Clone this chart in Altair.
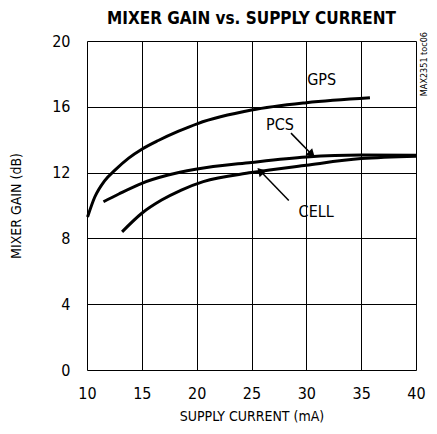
import altair as alt
import pandas as pd

# Curves
gps_x = [10.05, 10.7, 11.6, 12.55, 13.8, 15.0, 16.5, 18.3, 20.1, 25, 30, 35.8]
gps_y = [9.3, 10.5, 11.5, 12.15, 12.88, 13.42, 13.95, 14.5, 14.98, 15.8, 16.25, 16.55]
pcs_x = [11.5, 12.9, 15, 17.4, 19.9, 25, 30, 35, 40]
pcs_y = [10.23, 10.7, 11.35, 11.85, 12.2, 12.62, 12.95, 13.07, 13.05]
cell_x = [13.2, 15, 16.8, 18.6, 20.6, 25, 30, 35, 40]
cell_y = [8.4, 9.53, 10.33, 10.94, 11.45, 12.0, 12.45, 12.85, 13.0]

x_ticks = [10, 15, 20, 25, 30, 35, 40]
y_ticks = [0, 4, 8, 12, 16, 20]

label_text = ["GPS", "PCS", "CELL"]
label_x = [31.4, 27.6, 30.9]
label_y = [17.6, 14.9, 9.6]

arrow_x1 = [28.6, 28.4]
arrow_y1 = [14.4, 10.3]
arrow_x2 = [30.5, 25.8]
arrow_y2 = [13.1, 12.1]
arrow_angle = [134, 317]

rows = []
for name, xs, ys in [("GPS", gps_x, gps_y), ("PCS", pcs_x, pcs_y), ("CELL", cell_x, cell_y)]:
    for a, b in zip(xs, ys):
        rows.append({"series": name, "current": a, "gain": b})
df = pd.DataFrame(rows)

labels = pd.DataFrame({"t": label_text, "x": label_x, "y": label_y})
arrows = pd.DataFrame({"x1": arrow_x1, "y1": arrow_y1, "x2": arrow_x2, "y2": arrow_y2, "a": arrow_angle})

FONT = "'DejaVu Sans Condensed', 'DejaVu Sans', sans-serif"

xscale = alt.Scale(domain=[10, 40], nice=False, zero=False)
yscale = alt.Scale(domain=[0, 20], nice=False)

lines = alt.Chart(df).mark_line(color="black", strokeWidth=3, interpolate="monotone").encode(
    x=alt.X("current:Q", scale=xscale,
            axis=alt.Axis(values=x_ticks, title="SUPPLY CURRENT (mA)", grid=True,
                          gridColor="black", gridWidth=1, gridOpacity=1,
                          domain=False, ticks=False, labelPadding=15, labelFlush=False,
                          labelFont=FONT, labelFontSize=16, labelColor="black",
                          titleFont=FONT, titleFontSize=14, titleFontWeight="normal",
                          titleColor="black", titlePadding=8)),
    y=alt.Y("gain:Q", scale=yscale,
            axis=alt.Axis(values=y_ticks, title="MIXER GAIN (dB)", grid=True,
                          gridColor="black", gridWidth=1, gridOpacity=1,
                          domain=False, ticks=False, labelPadding=17, labelFlush=False,
                          labelFont=FONT, labelFontSize=16, labelColor="black",
                          titleFont=FONT, titleFontSize=14, titleFontWeight="normal",
                          titleColor="black", titlePadding=28)),
    detail="series:N",
)

text = alt.Chart(labels).mark_text(font=FONT, fontSize=16, color="black").encode(
    x=alt.X("x:Q", scale=xscale), y=alt.Y("y:Q", scale=yscale), text="t:N"
)

shafts = alt.Chart(arrows).mark_rule(color="black", strokeWidth=1.5).encode(
    x=alt.X("x1:Q", scale=xscale), y=alt.Y("y1:Q", scale=yscale),
    x2="x2:Q", y2="y2:Q",
)

heads = alt.Chart(arrows).mark_point(shape="triangle-up", filled=True, color="black",
                                      opacity=1, size=90).encode(
    x=alt.X("x2:Q", scale=xscale), y=alt.Y("y2:Q", scale=yscale),
    angle=alt.Angle("a:Q", scale=None),
)

side = alt.Chart(pd.DataFrame({"t": ["MAX2351 toc06"]})).mark_text(
    font=FONT, fontSize=9, color="black", angle=270, align="right", baseline="middle"
).encode(x=alt.value(337), y=alt.value(-9), text="t:N")

chart = alt.layer(lines, text, shafts, heads, side).properties(
    width=329, height=329,
    title=alt.TitleParams("MIXER GAIN vs. SUPPLY CURRENT", font=FONT, fontSize=17,
                          fontWeight="bold", color="black", anchor="middle", offset=4),
    autosize=alt.AutoSizeParams(type="none"),
    padding={"left": 79, "top": 33, "right": 13, "bottom": 56},
).configure_view(stroke="black", strokeWidth=2.5).configure(background="white")

chart.save("out.html", embed_options={"renderer": "svg", "actions": False})
